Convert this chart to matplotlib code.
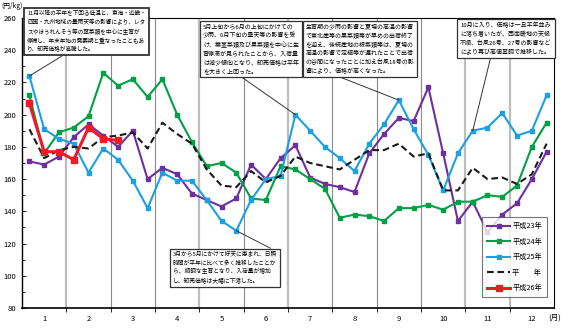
import numpy as np
import matplotlib
matplotlib.use("Agg")
from matplotlib import pyplot as plt

plt.rcParams['font.family'] = ['Noto Sans CJK JP', 'DejaVu Sans']

# 旬別卸売価格（円/kg）、上旬・中旬・下旬 x 12か月
h23 = [171, 169, 174, 186, 194, 187, 180, 190, 160, 167, 163, 151,
       147, 143, 148, 169, 160, 173, 181, 161, 157, 155, 152, 176,
       188, 198, 196, 217, 176, 134, 146, 127, 138, 145, 160, 177]
h24 = [212, 176, 189, 192, 199, 226, 218, 222, 211, 222, 200, 183,
       168, 170, 164, 148, 147, 168, 166, 160, 154, 136, 138, 137,
       134, 142, 142, 144, 141, 146, 146, 150, 149, 156, 180, 195]
h25 = [224, 191, 185, 182, 164, 179, 172, 159, 142, 164, 159, 159,
       147, 134, 128, 147, 160, 162, 200, 190, 180, 173, 165, 182,
       194, 209, 191, 175, 153, 176, 190, 192, 201, 187, 190, 212]
heinen = [191, 173, 178, 180, 179, 186, 187, 189, 179, 195, 188, 182,
          166, 156, 155, 165, 158, 162, 174, 170, 168, 166, 172, 178,
          178, 182, 174, 176, 153, 153, 167, 160, 161, 157, 163, 182]
h26 = [207, 177, 177, 172, 192, 185, 184]

months = ['1', '2', '3', '4', '5', '6', '7', '8', '9', '10', '11', '12']

c23 = '#6f2f9f'
c24 = '#00a044'
c25 = '#1ba1e2'
c26 = '#ec1c24'

fig = plt.figure(figsize=(5.62, 3.31), dpi=100)
ax = fig.add_axes([22/562, 1-308/331, 532/562, 290/331])

x = np.arange(36) + 0.5

# 月の区切り線
light = [True, False, False, True, False, True, False, False, False, True, True]
for k, lt in zip(range(3, 36, 3), light):
    if lt:
        ax.axvline(k, color='#bdbdbd', lw=1.6, zorder=0)
    else:
        ax.axvline(k, color='#8a8a8a', lw=0.8, zorder=0)

ax.plot(x, h23, color=c23, lw=1.5, marker='s', ms=3, label='平成23年', zorder=3)
ax.plot(x, h24, color=c24, lw=1.5, marker='s', ms=3, label='平成24年', zorder=3)
ax.plot(x, h25, color=c25, lw=1.5, marker='s', ms=3, label='平成25年', zorder=3)
ax.plot(x, heinen, color='#1a1a1a', lw=1.5, ls=(0, (3.2, 1.8)), label='平　　年', zorder=4)
ax.plot(x[:len(h26)], h26, color=c26, lw=2.2, marker='s', ms=5, label='平成26年', zorder=5)

ax.set_xlim(0, 36)
ax.set_ylim(80, 260)
ax.set_yticks(np.arange(80, 261, 20))
ax.set_yticks(np.arange(80, 261, 10), minor=True)
ax.tick_params(axis='y', direction='in', length=3, width=0.6, labelsize=5.5, pad=4)
ax.tick_params(axis='y', which='minor', direction='in', length=2, width=0.6)
ax.set_xticks(np.arange(3, 36, 3))
ax.set_xticks(np.arange(1.5, 36, 3), minor=True)
ax.set_xticklabels([])
ax.set_xticklabels(months, minor=True)
ax.tick_params(axis='x', which='major', direction='out', length=3, width=0.6)
ax.tick_params(axis='x', which='minor', length=0, labelsize=5.5, pad=5)
for s in ax.spines.values():
    s.set_linewidth(0.8)
ax.spines['left'].set_linewidth(1.0)
ax.spines['bottom'].set_linewidth(1.2)

fig.text(1/562, 1-6/331, '(円/kg)', fontsize=4.8, va='center', ha='left', zorder=10)
fig.text(548/562, 1-318/331, '(月)', fontsize=5.5, va='center', ha='left')

leg = ax.legend(loc='lower right', bbox_to_anchor=(0.994, 0.024), fontsize=5.2,
                handlelength=3.2, handletextpad=0.3, labelspacing=1.05,
                borderpad=0.7, frameon=True, fancybox=False, edgecolor='#555555')
leg.get_frame().set_linewidth(0.8)

# コメント枠
def note(txt, xt, yt, xy, rel, size=4.3, lw=0.9):
    ax.annotate(txt, xy=xy, xytext=(xt, yt), textcoords='data',
                fontsize=size, linespacing=1.55, va='top', ha='left',
                annotation_clip=False, zorder=6,
                bbox=dict(boxstyle='square,pad=0.5', fc='white', ec='#333333', lw=lw),
                arrowprops=dict(arrowstyle='-', color='#333333', lw=0.7,
                                relpos=rel, shrinkA=0, shrinkB=0))

note('11月以降の平年を下回る低温と、東海・近畿・\n'
     '四国・九州地域の曇雨天等の影響により、レタ\n'
     'スやほうれんそう等の葉菜類を中心に生育が\n'
     '停滞し、年末年始の需要期と重なったこともあ\n'
     'り、卸売価格が高騰した。',
     0.35, 264.5, (x[0], h25[0]), (0.34, 0), size=4.1, lw=1.3)
note('5月上旬から6月の上旬にかけての\n'
     '少雨、6月下旬の曇天等の影響を受\n'
     'け、葉茎菜類及び果菜類を中心に生\n'
     '育停滞が見られたことから、入荷量\n'
     'は減少傾向となり、卸売価格は平年\n'
     'を大きく上回った。',
     12.25, 256.3, (x[18], h25[18]), (0.36, 0))
note('生育期の少雨の影響と夏場の高温の影響\n'
     'で東北産等の果菜類等が早めの出荷終了\n'
     'を迎え、後続産地の根菜類等は、夏場の\n'
     '高温の影響で定植等が遅れたことで出荷\n'
     'の谷間になったことに加え台風18号の影\n'
     '響により、価格が高くなった。',
     19.2, 256.3, (x[25], h25[25]), (0.25, 0))
note('10月に入り、価格は一旦平年並み\n'
     'に落ち着いたが、西南暖地の天候\n'
     '不順、台風26号、27号の影響など\n'
     'により再び高値基調で推移した。',
     29.65, 257.5, (x[30], h25[30]), (0.34, 0))
note('3月から5月にかけて好天に恵まれ、日照\n'
     '時間が平年に比べて多く推移したことか\n'
     'ら、順調な生育となり、入荷量が増加\n'
     'し、卸売価格は大幅に下落した。',
     10.2, 115.0, (x[14], h25[14]), (1, 1), size=4.15)

fig.savefig('out.png', dpi=100)
